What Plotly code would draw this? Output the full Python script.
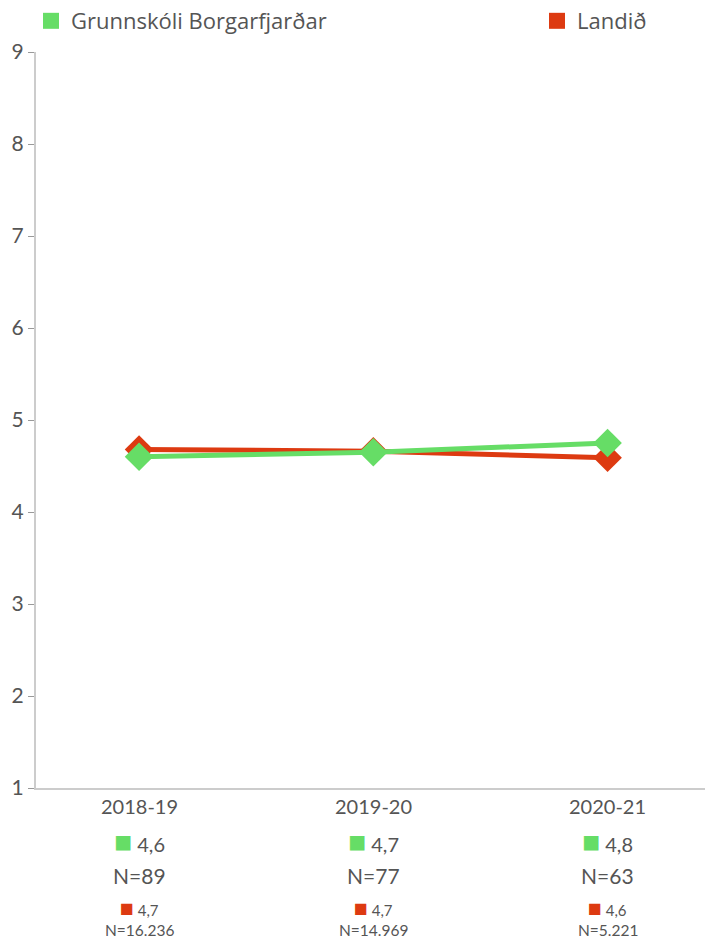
import plotly.graph_objects as go

categories = ["2018-19", "2019-20", "2020-21"]
school_name = "Grunnskóli Borgarfjarðar"
country_name = "Landið"
school_values = [4.6, 4.65, 4.75]
country_values = [4.68, 4.66, 4.59]
school_n = ["89", "77", "63"]
country_n = ["16.236", "14.969", "5.221"]
y_ticks = [1, 2, 3, 4, 5, 6, 7, 8, 9]

GREEN = "#66DD66"
RED = "#DD3A11"
TXT = "#555555"
FONT = "Lato"

xs = list(range(len(categories)))

fig = go.Figure()
fig.add_trace(go.Scatter(x=xs, y=country_values, mode="lines+markers",
                         line=dict(color=RED, width=5),
                         marker=dict(symbol="diamond", size=22, color=RED),
                         showlegend=False, hoverinfo="skip"))
fig.add_trace(go.Scatter(x=xs, y=school_values, mode="lines+markers",
                         line=dict(color=GREEN, width=5),
                         marker=dict(symbol="diamond", size=22, color=GREEN),
                         showlegend=False, hoverinfo="skip"))
# legend entries
fig.add_trace(go.Scatter(x=[None], y=[None], mode="markers", name=school_name,
                         marker=dict(symbol="square", size=18, color=GREEN),
                         legend="legend", showlegend=True))
fig.add_trace(go.Scatter(x=[None], y=[None], mode="markers", name=country_name,
                         marker=dict(symbol="square", size=18, color=RED),
                         legend="legend2", showlegend=True))

def fmt(v):
    return f"{v:.1f}".replace(".", ",")

for i, c in enumerate(categories):
    fig.add_annotation(x=i, xref="x", y=0, yref="paper", yanchor="top", yshift=-4,
                       text=c, showarrow=False, font=dict(size=20, color=TXT, family=FONT))
    fig.add_annotation(x=i, xref="x", y=0, yref="paper", yanchor="top", yshift=-32,
                       text=f"<span style='color:{GREEN};font-size:30px'>■</span> {fmt(school_values[i])}",
                       showarrow=False, font=dict(size=20, color=TXT, family=FONT))
    fig.add_annotation(x=i, xref="x", y=0, yref="paper", yanchor="top", yshift=-73,
                       text=f"N={school_n[i]}", showarrow=False,
                       font=dict(size=21, color=TXT, family=FONT))
    fig.add_annotation(x=i, xref="x", y=0, yref="paper", yanchor="top", yshift=-103,
                       text=f"<span style='color:{RED};font-size:23px'>■</span> {fmt(country_values[i])}",
                       showarrow=False, font=dict(size=15, color=TXT, family=FONT))
    fig.add_annotation(x=i, xref="x", y=0, yref="paper", yanchor="top", yshift=-131,
                       text=f"N={country_n[i]}", showarrow=False,
                       font=dict(size=15.5, color=TXT, family=FONT))

legend_common = dict(orientation="h", xanchor="left", xref="paper", yref="paper",
                     y=1.0421, yanchor="middle",
                     font=dict(size=22, color=TXT, family="Open Sans"), itemsizing="trace",
                     bgcolor="rgba(0,0,0,0)")

fig.update_layout(
    width=705, height=936,
    margin=dict(l=28, r=0, t=44, b=156, autoexpand=False),
    plot_bgcolor="white", paper_bgcolor="white",
    font=dict(family=FONT, color=TXT),
    showlegend=True,
    legend=dict(x=-0.0074, **legend_common),
    legend2=dict(x=0.740, **legend_common),
    xaxis=dict(range=[-0.44, 2.45], showticklabels=False, showgrid=False, zeroline=False,
               showline=True, linecolor="#cccccc", linewidth=2, ticks=""),
    yaxis=dict(range=[1, 9], tickvals=y_ticks, showgrid=False, zeroline=False,
               showline=True, linecolor="#cccccc", linewidth=2, ticks="outside",
               ticklen=6, tickcolor="#999999", tickfont=dict(size=21, color=TXT, family=FONT)),
)

fig.write_html("out.html")
